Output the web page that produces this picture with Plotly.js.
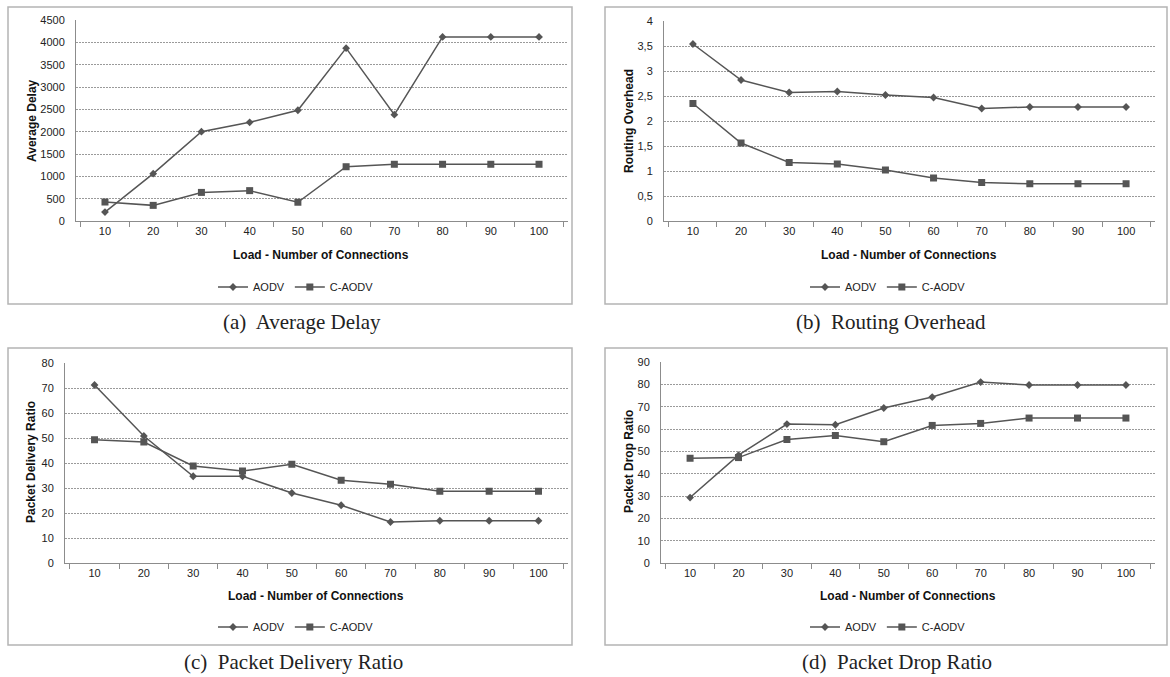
<!DOCTYPE html>
<html>
<head>
<meta charset="utf-8">
<script src="https://cdn.plot.ly/plotly-3.0.1.min.js"></script>
<style>html,body{margin:0;padding:0;background:#fff;}#chart{width:1170px;height:677px;}</style>
</head>
<body>
<div id="chart"></div>
<script>
// ---- data ----
const loads = ['10','20','30','40','50','60','70','80','90','100'];
const seriesNames = ['AODV','C-AODV'];
const delayAODV = [200,1060,2000,2210,2480,3870,2380,4120,4120,4120];
const delayCAODV = [425,350,640,680,420,1215,1270,1270,1270,1270];
const overheadAODV = [3.54,2.82,2.57,2.59,2.52,2.47,2.25,2.28,2.28,2.28];
const overheadCAODV = [2.35,1.56,1.17,1.14,1.02,0.86,0.77,0.745,0.745,0.745];
const pdrAODV = [71.2,50.8,34.7,34.7,28.0,23.1,16.4,16.9,16.9,16.9];
const pdrCAODV = [49.3,48.4,38.8,36.8,39.5,33.1,31.5,28.7,28.7,28.7];
const dropAODV = [29.3,48.3,62.2,61.9,69.4,74.3,81.0,79.7,79.7,79.7];
const dropCAODV = [46.9,47.2,55.3,57.1,54.3,61.6,62.5,64.9,64.9,64.9];
const yTitles = ['Average Delay','Routing Overhead','Packet Delivery Ratio','Packet Drop Ratio'];
const xTitle = 'Load - Number of Connections';
const captions = ['(a)  Average Delay','(b)  Routing Overhead','(c)  Packet Delivery Ratio','(d)  Packet Drop Ratio'];
const yMax = [4500, 4, 80, 90];
const yStep = [500, 0.5, 10, 10];

// ---- layout geometry (pixels) ----
const W = 1170, H = 677;
const px = v => v / W;
const py = v => 1 - v / H;
const panels = [
  {plot:[76,568,20,221], frame:[8,572,7,304], ytx:32, yty:121, xtx:321, xty:255, lgx:296, lgy:287, capx:302, capy:322},
  {plot:[664,1155,21,221], frame:[605,1167,7,304], ytx:629, yty:121, xtx:909, xty:255, lgx:888, lgy:287, capx:891, capy:322},
  {plot:[65,568,363,563], frame:[8,572,348,645], ytx:31, yty:462, xtx:316, xty:596, lgx:296, lgy:627, capx:293, capy:662},
  {plot:[661,1155,362,563], frame:[605,1167,348,645], ytx:629, yty:462, xtx:908, xty:596, lgx:888, lgy:627, capx:897, capy:662}
];
const dataSets = [[delayAODV,delayCAODV],[overheadAODV,overheadCAODV],[pdrAODV,pdrCAODV],[dropAODV,dropCAODV]];

const lineColor = '#555555';
const axisColor = '#8c8c8c';
const sans = 'Liberation Sans, Arial, sans-serif';
const serif = 'Liberation Serif, Times New Roman, serif';

const traces = [];
const layout = {
  width: W, height: H,
  margin: {l:0, r:0, t:0, b:0},
  paper_bgcolor: '#fff', plot_bgcolor: '#fff',
  separators: ',.',
  showlegend: true,
  shapes: [], annotations: []
};

panels.forEach((p, i) => {
  const n = i === 0 ? '' : String(i + 1);
  const xa = 'xaxis' + n, ya = 'yaxis' + n;
  const lg = 'legend' + n;
  layout[xa] = {
    domain: [px(p.plot[0]), px(p.plot[1])],
    anchor: 'y' + n,
    type: 'category',
    showline: true, linecolor: axisColor, linewidth: 1,
    ticks: 'outside', tickson: 'boundaries', ticklen: 5, tickcolor: axisColor,
    showgrid: false, zeroline: false,
    tickfont: {family: sans, size: 11, color: '#222'},
    fixedrange: true
  };
  layout[ya] = {
    domain: [py(p.plot[3]), py(p.plot[2])],
    anchor: 'x' + n,
    range: [0, yMax[i]], dtick: yStep[i], tick0: 0,
    showline: true, linecolor: axisColor, linewidth: 1,
    ticks: '', ticklabelstandoff: 8,
    showgrid: true, gridcolor: '#9a9a9a', griddash: '2px,1px', gridwidth: 1,
    zeroline: false,
    tickfont: {family: sans, size: 11, color: '#222'},
    fixedrange: true
  };
  layout[lg] = {
    orientation: 'h', x: px(p.lgx), y: py(p.lgy), xanchor: 'center', yanchor: 'middle',
    xref: 'paper', yref: 'paper',
    font: {family: sans, size: 11, color: '#222'},
    bgcolor: 'rgba(0,0,0,0)', itemwidth: 30, tracegroupgap: 0
  };
  const symbols = ['diamond', 'square'];
  const sizes = [6, 7];
  dataSets[i].forEach((vals, k) => {
    traces.push({
      type: 'scatter', mode: 'lines+markers',
      x: loads, y: vals, name: seriesNames[k],
      xaxis: 'x' + n, yaxis: 'y' + n, legend: lg,
      line: {color: lineColor, width: 1.5},
      marker: {symbol: symbols[k], size: sizes[k], color: lineColor},
      hoverinfo: 'x+y+name'
    });
  });
  layout.shapes.push({
    type: 'rect', xref: 'paper', yref: 'paper',
    x0: px(p.frame[0]), x1: px(p.frame[1]), y0: py(p.frame[3]), y1: py(p.frame[2]),
    line: {color: '#b4b4b4', width: 1.5}, fillcolor: 'rgba(0,0,0,0)', layer: 'below'
  });
  layout.annotations.push({
    xref: 'paper', yref: 'paper', x: px(p.ytx), y: py(p.yty), text: '<b>' + yTitles[i] + '</b>',
    textangle: -90, showarrow: false, xanchor: 'center', yanchor: 'middle',
    font: {family: sans, size: 12, color: '#111'}
  });
  layout.annotations.push({
    xref: 'paper', yref: 'paper', x: px(p.xtx), y: py(p.xty), text: '<b>' + xTitle + '</b>',
    showarrow: false, xanchor: 'center', yanchor: 'middle',
    font: {family: sans, size: 12, color: '#111'}
  });
  layout.annotations.push({
    xref: 'paper', yref: 'paper', x: px(p.capx), y: py(p.capy), text: captions[i],
    showarrow: false, xanchor: 'center', yanchor: 'middle',
    font: {family: serif, size: 21, color: '#222'}
  });
});

Plotly.newPlot('chart', traces, layout, {displayModeBar: false, staticPlot: true});
</script>
</body>
</html>
